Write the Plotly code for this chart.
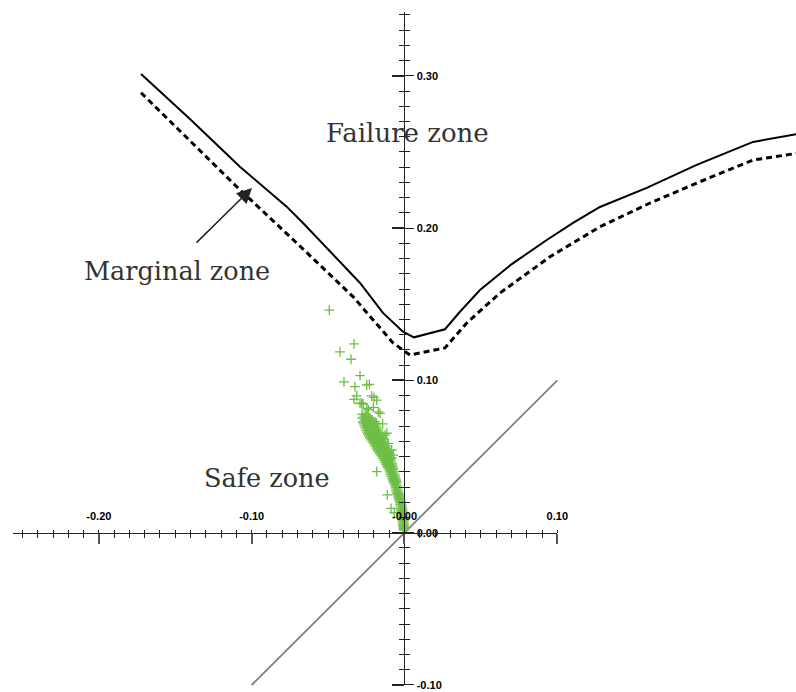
import numpy as np
import plotly.graph_objects as go

# Limit-state boundary (solid) and the marginal boundary just below it (dashed)
solid_x = [-0.1724, -0.1404, -0.1077, -0.0771, -0.0664, -0.0291, -0.0141, -0.0010, 0.0062,
           0.0265, 0.0363, 0.0494, 0.0702, 0.0931, 0.1103, 0.1279, 0.1585, 0.1912, 0.2281, 0.2567]
solid_y = [0.3012, 0.2716, 0.2403, 0.2141, 0.2034, 0.1640, 0.1443, 0.1320, 0.1283,
           0.1336, 0.1451, 0.1594, 0.1764, 0.1922, 0.2034, 0.2139, 0.2264, 0.2415, 0.2566, 0.2618]
dashed_x = [-0.1724, -0.1360, -0.1098, -0.0705, -0.0337, -0.0075, -0.0010, 0.0036, 0.0265,
            0.0407, 0.0625, 0.0952, 0.1279, 0.1607, 0.1934, 0.2281, 0.2567]
dashed_y = [0.2889, 0.2534, 0.2272, 0.1902, 0.1550, 0.1246, 0.1200, 0.1167, 0.1213,
            0.1377, 0.1574, 0.1812, 0.2009, 0.2165, 0.2305, 0.2447, 0.2491]

# Dense core of the response samples, row by row: (y, [x ...])
band_rows = [
    (0.0779, [-0.0278, -0.0252]),
    (0.0766, [-0.0265, -0.0239]),
    (0.0753, [-0.0278, -0.0252, -0.0226]),
    (0.0740, [-0.0262, -0.0236, -0.0213]),
    (0.0727, [-0.0272, -0.0249, -0.0226, -0.0206]),
    (0.0714, [-0.0267, -0.0244, -0.0219, -0.0196]),
    (0.0701, [-0.0262, -0.0239, -0.0213, -0.0187]),
    (0.0688, [-0.0257, -0.0232, -0.0206, -0.0180]),
    (0.0674, [-0.0252, -0.0226, -0.0200, -0.0173]),
    (0.0661, [-0.0245, -0.0219, -0.0193, -0.0167]),
    (0.0648, [-0.0239, -0.0213, -0.0187, -0.0160]),
    (0.0635, [-0.0232, -0.0206, -0.0180, -0.0154]),
    (0.0622, [-0.0226, -0.0200, -0.0173, -0.0147]),
    (0.0609, [-0.0218, -0.0192, -0.0165, -0.0140]),
    (0.0596, [-0.0209, -0.0183, -0.0157, -0.0134]),
    (0.0583, [-0.0201, -0.0175, -0.0149, -0.0127]),
    (0.0569, [-0.0193, -0.0167, -0.0141, -0.0121]),
    (0.0556, [-0.0185, -0.0160, -0.0135, -0.0114]),
    (0.0543, [-0.0177, -0.0154, -0.0128, -0.0108]),
    (0.0530, [-0.0168, -0.0145, -0.0121, -0.0103]),
    (0.0517, [-0.0160, -0.0137, -0.0115, -0.0098]),
    (0.0504, [-0.0152, -0.0129, -0.0108, -0.0093]),
    (0.0490, [-0.0144, -0.0121, -0.0101, -0.0088]),
    (0.0477, [-0.0136, -0.0114, -0.0093]),
    (0.0464, [-0.0128, -0.0108, -0.0085]),
    (0.0451, [-0.0121, -0.0101, -0.0082]),
    (0.0438, [-0.0115, -0.0095, -0.0079]),
    (0.0425, [-0.0108, -0.0090, -0.0075]),
    (0.0412, [-0.0101, -0.0085, -0.0072]),
    (0.0399, [-0.0096, -0.0082, -0.0068]),
    (0.0385, [-0.0092, -0.0079, -0.0065]),
    (0.0372, [-0.0087, -0.0074, -0.0062]),
    (0.0359, [-0.0082, -0.0069, -0.0059]),
    (0.0346, [-0.0077, -0.0065, -0.0055]),
    (0.0333, [-0.0072, -0.0062, -0.0052]),
    (0.0320, [-0.0067, -0.0055]),
    (0.0307, [-0.0062, -0.0049]),
    (0.0294, [-0.0059, -0.0046]),
    (0.0280, [-0.0056, -0.0043]),
    (0.0267, [-0.0052, -0.0040]),
    (0.0254, [-0.0049, -0.0036]),
    (0.0241, [-0.0044, -0.0032]),
    (0.0228, [-0.0039, -0.0029]),
    (0.0215, [-0.0036, -0.0026]),
    (0.0202, [-0.0033, -0.0023]),
    (0.0188, [-0.0029, -0.0020]),
    (0.0175, [-0.0026, -0.0016]),
    (0.0162, [-0.0024, -0.0014]),
    (0.0149, [-0.0023, -0.0013]),
    (0.0136, [-0.0021, -0.0012]),
    (0.0123, [-0.0020, -0.0010]),
    (0.0110, [-0.0018, -0.0008]),
    (0.0097, [-0.0016, -0.0007]),
    (0.0083, [-0.0014, -0.0005]),
    (0.0070, [-0.0013, -0.0003]),
    (0.0057, [-0.0011, -0.0003]),
    (0.0044, [-0.0010, -0.0003]),
    (0.0031, [-0.0008, -0.0001]),
    (0.0018, [-0.0007, 0.0000]),
]

# Scattered response samples around the core
stray_x = [-0.0492, -0.0330, -0.0422, -0.0350, -0.0291, -0.0396, -0.0324, -0.0247, -0.0230,
           -0.0313, -0.0330, -0.0215, -0.0200, -0.0280, -0.0182, -0.0247, -0.0291, -0.0270,
           -0.0237, -0.0204, -0.0171, -0.0160, -0.0215, -0.0193, -0.0182, -0.0143, -0.0116,
           -0.0128, -0.0139, -0.0106, -0.0084, -0.0073, -0.0084, -0.0095, -0.0182, -0.0113,
           -0.0088, -0.0067]
stray_y = [0.1462, 0.1240, 0.1187, 0.1139, 0.1031, 0.0991, 0.0959, 0.0970, 0.0974,
           0.0898, 0.0876, 0.0898, 0.0889, 0.0850, 0.0871, 0.0817, 0.0850, 0.0845,
           0.0806, 0.0823, 0.0794, 0.0784, 0.0740, 0.0729, 0.0718, 0.0714, 0.0653,
           0.0641, 0.0620, 0.0587, 0.0543, 0.0510, 0.0489, 0.0477, 0.0401, 0.0248,
           0.0160, 0.0131]

# Reference diagonal
diag_x = [-0.10, 0.10]
diag_y = [-0.10, 0.10]

# Axis ticks and labels
x_major = [-0.2, -0.1, 0.0, 0.1]
x_major_text = ['-0.20', '-0.10', '-0.00', '0.10']
y_major = [-0.1, 0.0, 0.1, 0.2, 0.3]
y_major_text = ['-0.10', '0.00', '0.10', '0.20', '0.30']

# Visible window and the extent of the drawn axis lines
x_lo, x_hi = -0.2647, 0.2562
y_lo, y_hi = -0.1046, 0.3498
x_axis_span = [-0.256, 0.10]
y_axis_span = [-0.10, 0.342]


def frac_x(v):
    return (v - x_lo) / (x_hi - x_lo)


def frac_y(v):
    return (v - y_lo) / (y_hi - y_lo)


x_minor = [round(v, 2) for v in np.arange(-0.25, 0.095, 0.01) if round(v * 100) % 10 != 0]
y_minor = [round(v, 2) for v in np.arange(-0.09, 0.345, 0.01) if round(v * 100) % 10 != 0]

sample_x = [x for _, xs in band_rows for x in xs] + stray_x
sample_y = [y for y, xs in band_rows for _ in xs] + stray_y

GREEN = '#6DBE45'
INK = '#222222'
tick_font = dict(family='Liberation Sans, Arial, sans-serif', size=11, color='black', weight='bold')
zone_font = dict(family='DejaVu Serif, serif', size=25.5, color='#333333')

fig = go.Figure()

fig.add_trace(go.Scatter(x=diag_x, y=diag_y, mode='lines',
                         line=dict(color='#808080', width=1.8), hoverinfo='skip'))
fig.add_trace(go.Scatter(x=sample_x, y=sample_y, mode='markers',
                         marker=dict(symbol='cross-thin', size=7,
                                     line=dict(width=1.3, color=GREEN)),
                         hoverinfo='skip'))
fig.add_trace(go.Scatter(x=solid_x, y=solid_y, mode='lines',
                         line=dict(color='black', width=2), hoverinfo='skip'))
fig.add_trace(go.Scatter(x=dashed_x, y=dashed_y, mode='lines',
                         line=dict(color='black', width=3, dash='6px,4px'), hoverinfo='skip'))

# Placeholder traces so the crossing axes get their own subplots
for xa, ya in [('x2', 'y'), ('x3', 'y'), ('x', 'y2'), ('x', 'y3')]:
    fig.add_trace(go.Scatter(x=[None], y=[None], xaxis=xa, yaxis=ya, mode='markers',
                             hoverinfo='skip', showlegend=False))

x_common = dict(domain=[frac_x(x_axis_span[0]), frac_x(x_axis_span[1])], range=x_axis_span,
                anchor='free', position=frac_y(0.0), showgrid=False, zeroline=False,
                fixedrange=True, tickmode='array', tickvals=x_major)
y_common = dict(domain=[frac_y(y_axis_span[0]), frac_y(y_axis_span[1])], range=y_axis_span,
                anchor='free', position=frac_x(0.0), showgrid=False, zeroline=False,
                fixedrange=True, tickmode='array', tickvals=y_major)

fig.update_layout(
    width=796, height=692,
    margin=dict(l=0, r=0, t=0, b=0, pad=0, autoexpand=False),
    paper_bgcolor='white', plot_bgcolor='rgba(0,0,0,0)',
    showlegend=False,
    xaxis=dict(range=[x_lo, x_hi], visible=False, domain=[0, 1], fixedrange=True),
    yaxis=dict(range=[y_lo, y_hi], visible=False, domain=[0, 1], fixedrange=True),
    xaxis2=dict(**x_common, side='top', showline=True, linecolor=INK, linewidth=1,
                ticks='outside', ticklen=3, tickwidth=1, tickcolor=INK,
                ticktext=x_major_text, tickfont=tick_font, ticklabelstandoff=5,
                minor=dict(tickmode='array', tickvals=x_minor, ticks='outside',
                           ticklen=3, tickwidth=1, tickcolor=INK)),
    xaxis3=dict(**x_common, side='bottom', showline=False,
                ticks='outside', ticklen=10, tickwidth=1.5, tickcolor='#555555',
                showticklabels=False,
                minor=dict(tickmode='array', tickvals=x_minor, ticks='outside',
                           ticklen=4, tickwidth=1, tickcolor=INK)),
    yaxis2=dict(**y_common, side='right', showline=True, linecolor=INK, linewidth=1,
                ticks='outside', ticklen=9, tickwidth=1, tickcolor=INK,
                ticktext=y_major_text, tickfont=tick_font,
                minor=dict(tickmode='array', tickvals=y_minor, ticks='outside',
                           ticklen=5, tickwidth=1, tickcolor=INK)),
    yaxis3=dict(**y_common, side='left', showline=False,
                ticks='outside', ticklen=12, tickwidth=1.5, tickcolor=INK,
                showticklabels=False,
                minor=dict(tickmode='array', tickvals=y_minor, ticks='outside',
                           ticklen=5, tickwidth=1, tickcolor=INK)),
)

fig.add_annotation(x=0.0018, y=0.2625, text='Failure zone', showarrow=False,
                   font=dict(zone_font, size=26))
fig.add_annotation(x=-0.1486, y=0.1718, text='Marginal zone', showarrow=False, font=zone_font)
fig.add_annotation(x=-0.0903, y=0.0359, text='Safe zone', showarrow=False, font=zone_font)
fig.add_annotation(x=-0.0998, y=0.2263, text='', showarrow=True, ax=-57, ay=56,
                   arrowhead=2, arrowsize=2, arrowwidth=1.5, arrowcolor=INK)

fig.write_html('out.html')
